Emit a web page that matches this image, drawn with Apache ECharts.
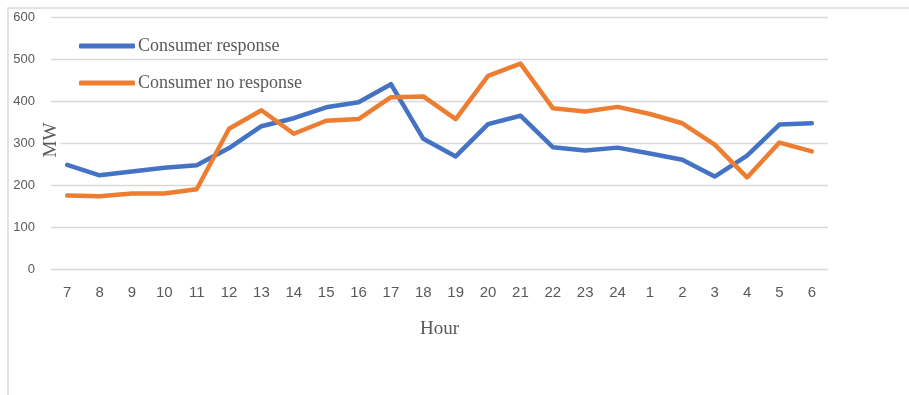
<!DOCTYPE html>
<html>
<head>
<meta charset="utf-8">
<script src="https://cdn.jsdelivr.net/npm/echarts@6/dist/echarts.min.js"></script>
<style>
  html, body { margin: 0; padding: 0; background: #fff; }
  #chart { width: 909px; height: 395px; }
</style>
</head>
<body>
<div id="chart"></div>
<script>
// Hourly load profile over one day, 7 h through 6 h of the next morning
const hours = ['7','8','9','10','11','12','13','14','15','16','17','18','19','20','21','22','23','24','1','2','3','4','5','6'];
const consumerResponse = [248, 223, 232, 241, 247, 288, 340, 359, 385, 397, 440, 310, 268, 345, 365, 290, 282, 289, 275, 260, 220, 270, 344, 347];
const consumerNoResponse = [175, 173, 180, 180, 190, 334, 378, 322, 353, 357, 409, 411, 357, 460, 489, 383, 375, 386, 369, 347, 296, 218, 301, 280];
const yTicks = { min: 0, max: 600, interval: 100 };

const serif = '"Liberation Serif", "Times New Roman", serif';
const sans = '"Liberation Sans Narrow", "Liberation Sans", Arial, sans-serif';

const chart = echarts.init(document.getElementById('chart'), null, { renderer: 'canvas' });

chart.setOption({
  animation: false,
  backgroundColor: '#ffffff',
  color: ['#4472C4', '#ED7D31'],
  grid: { left: 51, right: 81, top: 17, bottom: 126, containLabel: false },
  legend: {
    orient: 'vertical',
    left: 74,
    top: 32,
    itemWidth: 56,
    itemHeight: 5,
    itemGap: 19,
    icon: 'roundRect',
    textStyle: { fontFamily: serif, fontSize: 18, color: '#595959', padding: [0, 0, 0, -2] },
    data: ['Consumer response', 'Consumer no response']
  },
  xAxis: {
    type: 'category',
    data: hours,
    boundaryGap: true,
    axisLine: { show: false },
    axisTick: { show: false },
    axisLabel: { color: '#595959', fontFamily: sans, fontSize: 15, margin: 16 },
    name: 'Hour',
    nameLocation: 'middle',
    nameGap: 51,
    nameTextStyle: { fontFamily: serif, fontSize: 19, color: '#595959' }
  },
  yAxis: {
    type: 'value',
    min: yTicks.min,
    max: yTicks.max,
    interval: yTicks.interval,
    axisLine: { show: false },
    axisTick: { show: false },
    axisLabel: { color: '#595959', fontFamily: '"Liberation Sans", Arial, sans-serif', fontSize: 13, margin: 16 },
    splitLine: { lineStyle: { color: '#d9d9d9', width: 1.3 } }
  },
  graphic: [
    {
      type: 'rect',
      z: -1,
      shape: { x: 8, y: 8, width: 920, height: 400 },
      style: { fill: 'none', stroke: '#d9d9d9', lineWidth: 1.5 }
    },
    {
      type: 'text',
      x: 51,
      y: 140,
      rotation: Math.PI / 2,
      z: 10,
      style: {
        text: 'MW',
        font: '19px ' + serif,
        fill: '#595959',
        backgroundColor: '#ffffff',
        align: 'center',
        verticalAlign: 'middle'
      }
    }
  ],
  series: [
    {
      name: 'Consumer response',
      type: 'line',
      data: consumerResponse,
      symbol: 'none',
      lineStyle: { width: 4.5, cap: 'round', join: 'round' }
    },
    {
      name: 'Consumer no response',
      type: 'line',
      data: consumerNoResponse,
      symbol: 'none',
      lineStyle: { width: 4.5, cap: 'round', join: 'round' }
    }
  ]
});
</script>
</body>
</html>
